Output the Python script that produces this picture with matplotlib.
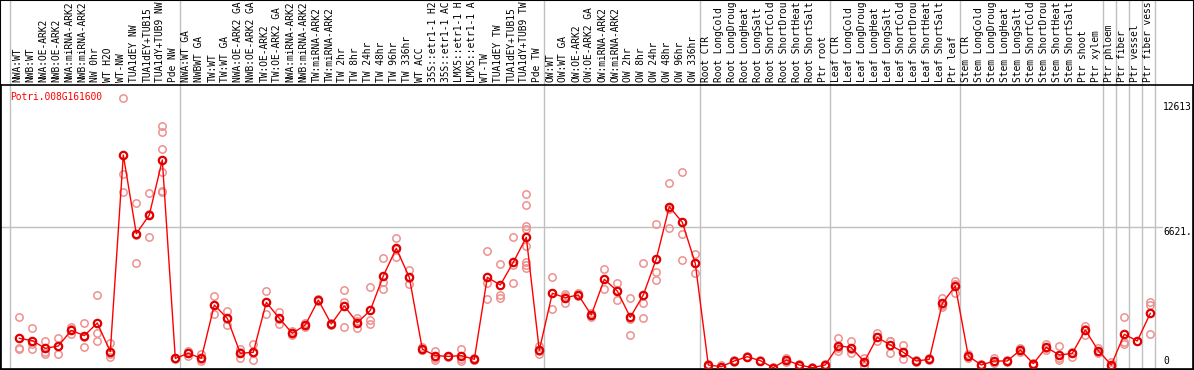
"""Expression profile of one poplar gene across sample columns, drawn in the
style of the old image-map viewer: rotated column labels on top, grey group
separators, replicate dots behind a red line through the column means."""

import matplotlib
matplotlib.use("Agg")
import matplotlib.pyplot as plt
from matplotlib.patches import Rectangle

GENE = "Potri.008G161600"
Y_TOP_LABEL = "12613"
Y_MID_LABEL = "6621."
Y_MAX = 13242  # axis top; the mid grid line sits at 6621

NW_LABELS = ["NWA:WT", "NWB:WT", "NWA:OE-ARK2", "NWB:OE-ARK2", "NWA:miRNA-ARK2",
             "NWB:miRNA-ARK2", "NW 0hr", "WT H2O", "WT-NW", "TUA1dEY NW",
             "TUA1dEY+TUB15 NW", "TUA1dY+TUB9 NW", "Pde NW"]
TW_LABELS = ["NWA:WT GA", "NWBWT GA", "TW:WT", "TW:WT GA", "NWA:OE-ARK2 GA",
             "NWB:OE-ARK2 GA", "TW:OE-ARK2", "TW:OE-ARK2 GA", "NWA:miRNA-ARK2",
             "NWB:miRNA-ARK2", "TW:miRNA-ARK2", "TW:miRNA-ARK2 GA", "TW 2hr",
             "TW 8hr", "TW 24hr", "TW 48hr", "TW 96hr", "TW 336hr", "WT ACC",
             "35S::etr1-1 H2O", "35S::etr1-1 ACC", "LMX5::etr1-1 H2O",
             "LMX5::etr1-1 ACC", "WT-TW", "TUA1dEY TW", "TUA1dEY+TUB15 TW",
             "TUA1dY+TUB9 TW", "Pde TW"]
OW_LABELS = ["OW:WT", "OW:WT GA", "OW:OE-ARK2", "OW:OE-ARK2 GA", "OW:miRNA-ARK2",
             "OW:miRNA-ARK2 GA", "OW 2hr", "OW 8hr", "OW 24hr", "OW 48hr",
             "OW 96hr", "OW 336hr"]
ROOT_LABELS = ["Root CTR", "Root LongCold", "Root LongDrought", "Root LongHeat",
               "Root LongSalt", "Root ShortCold", "Root ShortDrought",
               "Root ShortHeat", "Root ShortSalt", "Ptr root"]
LEAF_LABELS = ["Leaf CTR", "Leaf LongCold", "Leaf LongDrought", "Leaf LongHeat",
               "Leaf LongSalt", "Leaf ShortCold", "Leaf ShortDrought",
               "Leaf ShortHeat", "Leaf ShortSalt", "Ptr leaf"]
STEM_LABELS = ["Stem CTR", "Stem LongCold", "Stem LongDrought", "Stem LongHeat",
               "Stem LongSalt", "Stem ShortCold", "Stem ShortDrought",
               "Stem ShortHeat", "Stem ShortSalt", "Ptr shoot", "Ptr xylem"]
# the last four tissue columns each form a group of their own
GROUPS = [NW_LABELS, TW_LABELS, OW_LABELS, ROOT_LABELS, LEAF_LABELS, STEM_LABELS,
          ["Ptr phloem"], ["Ptr fiber"], ["Ptr vessel"], ["Ptr fiber vessel"]]

MEANS = [1431, 1321, 964, 1072, 1803, 1554, 2145, 808, 9979, 6310, 7181, 9746, 497,
         731, 497, 2984, 2363, 731, 778, 3109, 2363, 1663, 2052, 3217, 2098, 2938,
         2160, 2736, 4337, 5627, 4275, 933, 622, 590, 622, 451, 4275, 3917, 4974,
         6141, 871,
         3529, 3326, 3451, 2518, 4181, 3637, 2410, 3451, 5129, 7570, 6839, 4927,
         187, 109, 373, 575, 389, 62, 420, 187, 62, 187,
         1088, 995, 342, 1477, 1119, 778, 373, 451, 3062, 3870,
         606, 187, 373, 373, 886, 249, 1010, 653, 731, 1819, 855,
         187, 1617, 1306, 2596]

REPLICATES = [
    [2410, 965, 947], [1897, 918, 1150], [1321, 808, 715], [1430, 684, 1072],
    [1943, 1617, 1850], [2145, 1011, 1477], [3451, 1700, 1290], [1197, 547, 680],
    [12613, 9078, 8239], [7726, 4943, 6261], [8192, 6141, 7210],
    [11331, 11037, 10245, 9172, 8300, 8239], [520, 470, 500],
    [855, 731, 622], [684, 466, 373], [3404, 2580, 2984], [2705, 2052, 2330],
    [918, 497, 780], [1166, 420, 750], [3637, 2580, 3110], [2674, 2083, 2330],
    [1760, 1570, 1660], [2140, 1960, 2050], [3287, 3150, 3210], [2150, 2050, 2100],
    [3684, 3140, 1974], [2363, 1897, 2220], [3824, 2285, 2083], [5176, 4073, 3716],
    [6094, 5207, 5580], [4616, 3949, 4260], [1042, 887, 870], [855, 497, 420],
    [620, 560, 590], [918, 466, 373], [500, 420, 430], [5502, 3995, 3248],
    [4881, 3451, 3295], [6141, 4849, 3995],
    [8145, 7632, 6684, 6528, 5721, 5005, 4849, 4694], [1088, 684, 840],
    [4275, 2798, 3529], [3498, 3062, 3420], [3530, 3390, 3430], [2600, 2420, 2530],
    [4648, 3716, 4180], [3995, 3217, 3700], [3295, 1585, 2350], [4927, 3062, 2394],
    [6761, 4539, 4150], [8673, 6560, 7480], [9172, 6280, 5083], [5362, 4461, 4960],
    [220, 160, 180], [200, 60, 70], [420, 330, 370], [620, 540, 570],
    [430, 350, 390], [90, 40, 60], [530, 330, 400], [220, 150, 190],
    [90, 40, 60], [220, 150, 190],
    [1430, 855, 980], [1322, 731, 930], [530, 160, 340], [1663, 1290, 1480],
    [1306, 1320, 731], [1119, 451, 760], [420, 330, 370], [500, 400, 450],
    [3295, 2907, 2990], [4103, 3529, 3980],
    [680, 530, 610], [230, 140, 190], [530, 260, 370], [420, 330, 370],
    [990, 780, 890], [300, 200, 250], [1181, 890, 960], [1050, 500, 410],
    [810, 580, 730], [2021, 1585, 1850], [960, 750, 855],
    [340, 120, 110], [2410, 1275, 1166], [1306], [3140, 2984, 1632],
]

W, H = 1194, 370          # output size in pixels
PLOT_TOP, PLOT_BOTTOM = 85, 369
X0, STEP = 19.3, 13.0     # pixel x of column 0 and column pitch
MAX_CHARS = 14            # the viewer's label strip only holds this many
FONT = dict(family="DejaVu Sans Mono", size=6.9)


def px_to_col(px):
    return (px - X0) / STEP


def main():
    fig = plt.figure(figsize=(W / 100, H / 100), dpi=100)
    ax = fig.add_axes([1 / W, (H - PLOT_BOTTOM) / H, (W - 2) / W,
                       (PLOT_BOTTOM - PLOT_TOP) / H])
    ax.set_xlim(px_to_col(1), px_to_col(W - 1))
    ax.set_ylim(0, Y_MAX)
    ax.set_xticks([])
    ax.set_yticks([])
    for s in ax.spines.values():
        s.set_color("black")
        s.set_linewidth(1.2)

    labels = [lab for g in GROUPS for lab in g]
    cols = list(range(len(labels)))

    # separators run up through the label strip
    over = PLOT_BOTTOM / (PLOT_BOTTOM - PLOT_TOP)
    seps = [px_to_col(10)]
    end = -1
    for g in GROUPS:
        end += len(g)
        seps.append(end + 0.36)
    for x in seps:
        ax.axvline(x, ymin=0, ymax=over, color="#c0c0c0", lw=1, clip_on=False, zorder=1)
    ax.axhline(Y_MAX / 2, xmax=(1162 - 1) / (W - 2), color="#c0c0c0", lw=1, zorder=1)

    for c, reps in zip(cols, REPLICATES):
        ax.plot([c] * len(reps), reps, "o", ms=5.3, mfc="none", mec="#ee9090",
                mew=1.1, zorder=2, clip_on=False)
    ax.plot(cols, MEANS, "-", color="red", lw=1, zorder=3)
    ax.plot(cols, MEANS, "o", ms=5.3, mfc="none", mec="#e00000", mew=1.6, zorder=4)

    label_y = (PLOT_BOTTOM - 82) / (PLOT_BOTTOM - PLOT_TOP)
    trans = ax.get_xaxis_transform()
    for c, lab in zip(cols, labels):
        ax.text(c - 0.15, label_y, lab[:MAX_CHARS].rstrip(), transform=trans,
                rotation=90, ha="center", va="bottom", clip_on=False, **FONT)

    ax.text(px_to_col(10), (PLOT_BOTTOM - 97) / (PLOT_BOTTOM - PLOT_TOP), GENE,
            transform=trans, color="red", ha="left", va="center", **FONT)
    for txt, py in [(Y_TOP_LABEL, 107), (Y_MID_LABEL, 232), ("0", 361.5)]:
        ax.text(px_to_col(1163), (PLOT_BOTTOM - py) / (PLOT_BOTTOM - PLOT_TOP), txt,
                transform=trans, ha="left", va="center", **FONT)

    fig.patches.append(Rectangle((0, 0), 1, 1, transform=fig.transFigure, fill=False,
                                 edgecolor="black", lw=1.5))
    fig.savefig("out.png", dpi=100)
    plt.close(fig)


if __name__ == "__main__":
    main()
